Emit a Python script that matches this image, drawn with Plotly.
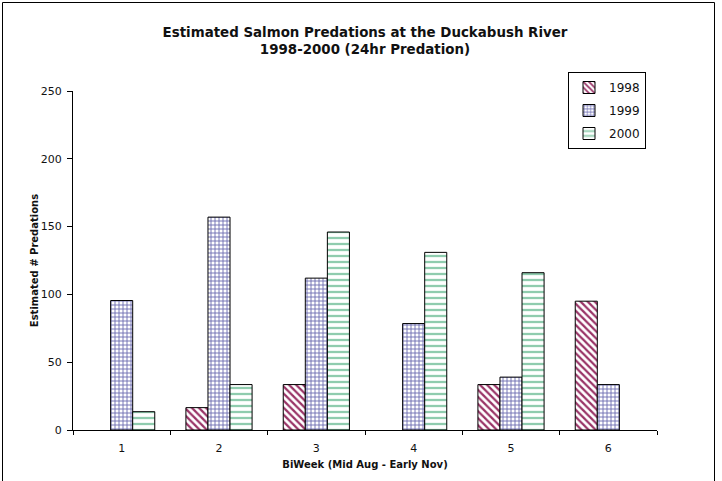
import plotly.graph_objects as go

categories = ["1", "2", "3", "4", "5", "6"]
years = ["1998", "1999", "2000"]
vals_1998 = [0, 16.5, 33.5, 0, 33.5, 95]
vals_1999 = [95.5, 157, 112, 78.5, 39, 33.5]
vals_2000 = [13.5, 33.5, 146, 131, 116, 0]
y_ticks = [0, 50, 100, 150, 200, 250]

FONT = "Verdana, DejaVu Sans, sans-serif"

styles = {
    "1998": dict(shape="\\", fg="#993366", size=5, solidity=0.45),
    "1999": dict(shape="+", fg="#6A6AB0", size=4, solidity=0.40),
    "2000": dict(shape="-", fg="#8FCCAE", size=6, solidity=0.38),
}

fig = go.Figure()
for name, vals in zip(years, [vals_1998, vals_1999, vals_2000]):
    st = styles[name]
    fig.add_trace(go.Bar(
        x=categories, y=[v if v else None for v in vals], name=name,
        legendgroup=name,
        marker=dict(
            color="white",
            line=dict(color="black", width=1),
            pattern=dict(shape=st["shape"], fgcolor=st["fg"], bgcolor="white",
                         size=st["size"], solidity=st["solidity"], fillmode="replace"),
        ),
    ))

L, R, T, B = 73, 65, 91, 51
W, H = 722, 481
pw, ph = W - L - R, H - T - B

def px_x(p):
    return (p - L) / pw

def px_y(p):
    return (H - B - p) / ph

fig.update_layout(
    width=W, height=H,
    margin=dict(l=L, r=R, t=T, b=B),
    paper_bgcolor="white", plot_bgcolor="white",
    font=dict(family=FONT, size=11, color="#111"),
    title=dict(
        text="Estimated Salmon Predations at the Duckabush River<br>1998-2000 (24hr Predation)",
        x=0.5, xref="paper", xanchor="center",
        y=1 - 37 / H, yref="container", yanchor="top",
        font=dict(family=FONT, size=13.4, color="#111", weight="bold"),
    ),
    barmode="group", bargap=0.32, bargroupgap=0,
    showlegend=True,
    legend=dict(
        x=px_x(568), y=px_y(72), xanchor="left", yanchor="top",
        bgcolor="white", bordercolor="black", borderwidth=1,
        font=dict(family=FONT, size=12, color="#111"),
        itemwidth=30, tracegroupgap=4,
    ),
    xaxis=dict(
        type="category", tickson="boundaries",
        showline=True, linecolor="black", linewidth=1,
        ticks="outside", ticklen=4, tickcolor="black",
        ticklabelstandoff=8,
        showgrid=False, zeroline=False,
        tickfont=dict(family=FONT, size=11),
        title=dict(text="BiWeek (Mid Aug - Early Nov)", standoff=6,
                   font=dict(family=FONT, size=10, weight="bold")),
    ),
    yaxis=dict(
        range=[0, 250], tickvals=y_ticks,
        showline=True, linecolor="black", linewidth=1,
        ticks="outside", ticklen=5, tickcolor="black",
        ticklabelstandoff=3,
        showgrid=False, zeroline=False,
        tickfont=dict(family=FONT, size=11),
        title=dict(text="Estimated # Predations", standoff=0,
                   font=dict(family=FONT, size=10, weight="bold")),
    ),
)

fig.add_shape(type="rect", xref="paper", yref="paper",
              x0=px_x(2.5), x1=px_x(714.5), y0=px_y(495), y1=px_y(2.5),
              line=dict(color="black", width=1), layer="below")

fig.write_html("out.html", config={"displayModeBar": False},
               post_script="document.body.style.margin='0';")
